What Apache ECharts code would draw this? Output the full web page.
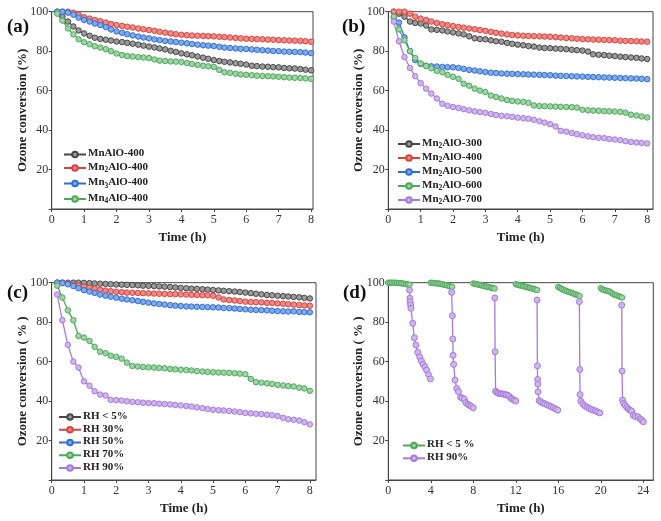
<!DOCTYPE html>
<html><head><meta charset="utf-8">
<script src="https://cdn.jsdelivr.net/npm/echarts@6/dist/echarts.min.js"></script>
<style>html,body{margin:0;padding:0;background:#fff}#c{width:661px;height:521px}</style>
</head><body><div id="c"></div>
<script>
// ---- data ----
const T8 = [0.17,0.33,0.5,0.67,0.83,1,1.17,1.33,1.5,1.67,1.83,2,2.17,2.33,2.5,2.67,2.83,3,3.17,3.33,3.5,3.67,3.83,4,
            4.17,4.33,4.5,4.67,4.83,5,5.17,5.33,5.5,5.67,5.83,6,6.17,6.33,6.5,6.67,6.83,7,7.17,7.33,7.5,7.67,7.83,8];
const aNames = ['MnAlO-400','Mn2AlO-400','Mn3AlO-400','Mn4AlO-400'];
const aGray = [99.5,97.5,95,92.5,90.5,89, 87.8,86.8,86.2,85.8,85.4,84.9, 84.6,84.2,83.8,83.3,82.8,82.3, 81.9,81.4,80.9,80.2,79.6,78.9,
  78.4,77.9,77.3,76.7,76.1,75.5, 75.0,74.6,74.3,73.9,73.6,73.2, 72.6,72.4,72.2,72.1,71.9,71.8, 71.5,71.3,71.2,70.9,70.6,70.3];
const aRed = [100,100,100,99.5,98.5,97.2, 96.5,95.8,95.2,94.5,93.8,93.2, 92.8,92.4,92,91.5,91.1,90.7, 90.3,89.8,89.4,89,88.6,88.3,
  88.1,87.9,87.8,87.7,87.6,87.5, 87.3,87.1,86.9,86.7,86.5,86.3, 86.2,86.1,86,85.9,85.8,85.6, 85.5,85.4,85.3,85.2,85.0,84.8];
const aBlue = [100,100,99.5,98.5,97,95.8, 95,94,93.2,92.2,91,90, 89.3,88.6,88,87.4,86.9,86.5, 86,85.6,85.2,84.9,84.6,84.3,
  84,83.6,83.3,83,82.8,82.6, 82.2,81.8,81.6,81.4,81.2,81.1, 80.9,80.7,80.5,80.3,80.1,80, 79.8,79.7,79.6,79.5,79.3,79];
const aGreen = [99,95.5,91.5,88.5,86,84.5, 83.5,82.5,81.8,81,80,78.8, 78,77.5,77.3,77,76.8,76.5, 75.8,75.2,75,74.8,74.7,74.5,
  74,73.5,73,72.6,72.3,72, 70.5,69.3,69,68.6,68.2,68, 67.8,67.6,67.4,67.3,67.2,67, 66.8,66.6,66.5,66.4,66.2,66];

const bNames = ['Mn2AlO-300','Mn2AlO-400','Mn2AlO-500','Mn2AlO-600','Mn2AlO-700'];
const bGray = [100,99,97.5,95,94.3,94, 93,91,90.8,90.5,90,89.5, 89,88.5,87.5,86.5,86.2,86, 85.5,85,84.8,84.2,83.7,83.3,
  83,82.6,82.3,81.8,81.6,81.5, 81.3,81.2,81,80.7,80.5,80.3, 79.8,78.4,78.2,78,77.7,77.5, 77.2,77,76.8,76.6,76.3,76];
const bRed = [100,100,100,99,97.5,96.5, 95.8,95,94.3,93.7,93.2,92.7, 92.3,91.9,91.5,91.1,90.7,90.3, 89.8,89.3,88.9,88.5,88.2,88,
  87.8,87.7,87.6,87.5,87.4,87.3, 87.1,86.9,86.7,86.5,86.3,86.1, 86,85.9,85.8,85.7,85.6,85.5, 85.3,85.2,85.1,85,84.9,84.8];
const bBlue = [97,94.5,87,80,75.5,73.5, 72.6,72.3,72.2,72,71.9,71.8, 71.5,71,70.5,70.2,69.8,69.4, 69.1,68.9,68.7,68.6,68.5,68.4,
  68.3,68.2,68.1,68,67.9,67.8, 67.6,67.5,67.4,67.3,67.2,67.1, 67,66.9,66.8,66.7,66.6,66.5, 66.4,66.3,66.2,66.1,66,65.8];
const bGreen = [97.5,91,85.5,80,76.5,73.8, 72.5,71.3,70,69.3,68,67, 66,63.5,62.5,61,60,59.3, 57.5,56.8,56,55.2,54.8,54.5,
  54.3,53.8,52.5,52.2,52.1,52, 51.9,51.8,51.7,51.6,51.4,50.3, 50,49.9,49.8,49.6,49.5,49.4, 49.2,48.8,47.8,47.4,46.9,46.4];
const bPurple = [95,85,77,71.5,67.3,63.8, 61,58.5,56,53.3,52.3,51.7, 51.2,50.6,50,49.5,49.1,48.7, 48.2,47.6,47.2,47,46.7,46.3,
  46,45.7,45.2,44.5,43.8,43, 41.8,39.6,39.2,38.5,37.9,37.4, 36.8,36.4,36.1,35.9,35.5,35.2, 34.9,34.4,34,33.7,33.5,33.2];

const cNames = ['RH < 5%','RH 30%','RH 50%','RH 70%','RH 90%'];
const cGray = [100,100,100,100,100,99.9, 99.8,99.6,99.5,99.4,99.2,99.1, 99,98.9,98.8,98.7,98.5,98.4, 98.3,98.1,98,97.8,97.6,97.4,
  97.2,97,96.9,96.7,96.5,96.3, 96.1,95.9,95.7,95.5,95.3,95, 94.7,94.4,94.1,93.8,93.6,93.4, 93.2,93,92.8,92.6,92.3,92];
const cRed = [100,100,99.6,99,98.5,98, 97.5,97,96.5,96,95.7,95.4, 95.2,95,94.9,94.8,94.7,94.6, 94.5,94.4,94.3,94.2,94.2,94.1,
  94,93.9,93.8,93.7,93.6,93.4, 92.5,91.5,91.2,91,90.7,90.4, 90.2,90.1,90,89.8,89.7,89.5, 89.3,89.1,88.9,88.7,88.5,88.3];
const cBlue = [100,99.8,99.2,98.3,97.2,96.2, 95.5,94.8,94,93.4,92.9,92.4, 91.9,91.5,91.1,90.7,90.3,89.9, 89.5,89.2,88.9,88.6,88.4,88.2,
  88,87.9,87.8,87.7,87.6,87.5, 87.4,87.2,87.1,86.9,86.7,86.5, 86.3,86.2,86.1,86,85.8,85.6, 85.5,85.4,85.5,85.2,85.1,85];
const cGreen = [98.5,92.5,86,81,73,72.2, 70.5,67.5,65,64.3,63,62.4, 61.5,59.5,57.8,57.5,57.3,57.1, 57,56.8,56.6,56.3,56.1,55.9,
  55.7,55.5,55.2,55,54.8,54.6, 54.5,54.4,54.3,54.1,53.9,53.6, 51.2,49.6,49.3,49,48.7,48.2, 47.9,47.6,47.4,46.8,46.4,45.2];
const cPurple = [94,81,68.5,60,57,50, 47.8,45,43.3,42.8,40.6,40.5, 40.3,39.9,39.6,39.4,39.2,39, 38.9,38.7,38.5,38.3,38,37.8,
  37.5,37.2,36.8,36.4,36,35.6, 35.4,35.2,35,34.7,34.4,34, 33.8,33.6,33.4,33.1,32.8,32.4, 31.5,30.8,30.5,30.1,29.3,28.2];

const dNames = ['RH < 5 %','RH 90%'];
const dGreenStarts = [0,4,8,12,16,20];
const dGreenOffsets = [0,0.17,0.33,0.5,0.67,0.83,1,1.17,1.33,1.5,1.67,1.83,2];
const dGreenV = [
  [100,100,100,100,100,99.9,99.8,99.7,99.6,99.5,99.3,99.1,99.0],
  [100,99.9,99.8,99.7,99.6,99.5,99.3,99.1,98.9,98.7,98.4,98.1,97.9],
  [99.6,99.4,99.2,99,98.8,98.6,98.3,98.1,97.9,97.7,97.5,97.3,97.0],
  [99.2,99,98.7,98.5,98.3,98,97.8,97.6,97.4,97.1,96.9,96.6,96.3],
  [97.8,97.3,96.8,96.4,96,95.6,95.3,95,94.7,94.3,94,93.6,93.2],
  [97.2,96.6,96.2,96,95.8,95.5,94.8,94.2,93.8,93.5,93.2,92.8,92.5]
];
const dPurpleT = [
  [2.0,2.03,2.06,2.1,2.13,2.3,2.45,2.6,2.77,2.95,3.12,3.28,3.45,3.6,3.78,3.97],
  [5.96,6.03,6.07,6.1,6.15,6.28,6.44,6.6,6.8,6.95,7.15,7.3,7.5,7.65,7.8,8.0],
  [10.02,10.05,10.1,10.2,10.35,10.5,10.65,10.8,10.95,11.1,11.25,11.4,11.55,11.7,11.85,12.0],
  [14.0,14.03,14.05,14.07,14.1,14.2,14.35,14.55,14.75,14.95,15.15,15.35,15.55,15.75,15.95],
  [17.98,18.02,18.05,18.12,18.3,18.5,18.7,18.9,19.1,19.3,19.5,19.7,19.9],
  [21.97,22.0,22.05,22.15,22.3,22.45,22.6,22.75,22.9,23.05,23.25,23.5,23.7,23.85,24.0]
];
const dPurpleV = [
  [96.2,92.1,90.4,88.7,87,79.4,72.1,68.4,64.7,62.4,60.3,58.6,57.3,55.7,53.5,51.2],
  [95.1,83.3,71.5,63.2,58.6,50.6,46.4,44.8,42,41.5,41,39.2,38.3,37.8,37.3,36.6],
  [92.3,65,45,44.4,44,43.8,43.7,43.6,43.4,43.2,42.9,42.3,41.4,40.9,40.4,40],
  [91.2,57.9,51,48.6,44.7,40.2,39.6,39,38.6,38.1,37.6,37.1,36.6,36,35.4],
  [90.4,56,43.3,39.9,38.6,37.6,36.9,36.3,35.8,35.4,35,34.5,34],
  [88.6,55.2,40.5,38.8,37.8,36.8,36,35.4,35,32.8,32.2,32,31,30.3,29.5]
];
const xTicks8 = [0,1,2,3,4,5,6,7,8];
const xTicks24 = [0,4,8,12,16,20,24];
const yLabels = [20,40,60,80,100];

// ---- styling ----
const FONT = "'Liberation Serif','Times New Roman',serif";
const COL = {
  gray:   ['#474747','#9b9b9b'],
  red:    ['#d8433f','#ef8a86'],
  blue:   ['#2f6fd2','#82aaea'],
  green:  ['#4ea85a','#9ed3a5'],
  purple: ['#a67ad8','#cfb5ee']
};

const grids = [
  {left:51.7, top:11.7, width:261.3, height:197.3, xmax:8.06, xt:xTicks8, yname:'Ozone conversion (%)'},
  {left:388.3, top:11.7, width:264.7, height:197.3, xmax:8.18, xt:xTicks8, yname:'Ozone conversion (%)'},
  {left:51.7, top:282.7, width:264.3, height:197.3, xmax:8.19, xt:xTicks8, yname:'Ozone conversion ( % )'},
  {left:388.3, top:282.7, width:265, height:197.3, xmax:24.94, xt:xTicks24, yname:'Ozone conversion ( % )'}
];

function pairs(ts, vs){ return ts.map((t,i)=>[t, vs[i]]); }
function mk(name, idx, c, data){
  return {
    name, type:'line', xAxisIndex:idx, yAxisIndex:idx, data,
    symbol:'circle', symbolSize:5.5, showSymbol:true, animation:false,
    lineStyle:{color:c[0], width:1.3},
    itemStyle:{color:c[1], borderColor:c[0], borderWidth:1}
  };
}

const series = [
  mk(aNames[0],0,COL.gray,pairs(T8,aGray)),
  mk(aNames[1],0,COL.red,pairs(T8,aRed)),
  mk(aNames[2],0,COL.blue,pairs(T8,aBlue)),
  mk(aNames[3],0,COL.green,pairs(T8,aGreen)),
  mk(bNames[0],1,COL.gray,pairs(T8,bGray)),
  mk(bNames[1],1,COL.red,pairs(T8,bRed)),
  mk(bNames[2],1,COL.blue,pairs(T8,bBlue)),
  mk(bNames[3],1,COL.green,pairs(T8,bGreen)),
  mk(bNames[4],1,COL.purple,pairs(T8,bPurple)),
  mk(cNames[0],2,COL.gray,pairs(T8,cGray)),
  mk(cNames[1],2,COL.red,pairs(T8,cRed)),
  mk(cNames[2],2,COL.blue,pairs(T8,cBlue)),
  mk(cNames[3],2,COL.green,pairs(T8,cGreen)),
  mk(cNames[4],2,COL.purple,pairs(T8,cPurple))
];
// panel d: segments separated by gaps
const dG = [], dP = [];
dGreenStarts.forEach((s,si)=>{
  if(si>0) dG.push([s-1,'-']);
  dGreenOffsets.forEach((o,i)=>dG.push([+(s+o).toFixed(2), dGreenV[si][i]]));
});
dPurpleT.forEach((ts,si)=>{
  if(si>0) dP.push([ts[0]-1,'-']);
  ts.forEach((t,i)=>dP.push([t, dPurpleV[si][i]]));
});
const sdg = mk(dNames[0],3,COL.green,dG); sdg.connectNulls=false;
const sdp = mk(dNames[1],3,COL.purple,dP); sdp.connectNulls=false; sdp.symbolSize=6;
series.push(sdg, sdp);

function fmtName(n){
  const m = n.match(/^Mn(\d)(.*)$/);
  if(m) return '{t|Mn}{s|'+m[1]+'}{t|'+m[2]+'}';
  return '{t|'+n+'}';
}
const legendRich = {
  t:{fontFamily:FONT, fontWeight:'bold', fontSize:11, color:'#222', lineHeight:13, verticalAlign:'top'},
  s:{fontFamily:FONT, fontWeight:'bold', fontSize:7.5, color:'#222', lineHeight:8, padding:[6,0,0,0], verticalAlign:'bottom'}
};
function legend(names, left, top, gap){
  return {data:names, orient:'vertical', left, top, padding:0, itemWidth:22, itemHeight:7, itemGap:gap,
    selectedMode:false, formatter:fmtName, textStyle:{rich:legendRich, padding:[0,0,0,-3]}};
}

const option = {
  animation:false,
  grid: grids.map(g=>({left:g.left, top:g.top, width:g.width, height:g.height, show:true, borderColor:'#444', borderWidth:1})),
  xAxis: grids.map((g,i)=>({
    type:'value', gridIndex:i, min:0, max:g.xmax,
    name:'Time (h)', nameLocation:'middle', nameGap:22, nameMoveOverlap:false,
    nameTextStyle:{fontFamily:FONT, fontWeight:'bold', fontSize:13, color:'#222'},
    axisLine:{lineStyle:{color:'#444', width:1}},
    axisTick:{show:true, length:3, inside:false, customValues:g.xt, lineStyle:{color:'#444'}},
    axisLabel:{customValues:g.xt, margin:5, fontFamily:FONT, fontSize:12, color:'#333'},
    splitLine:{show:false}
  })),
  yAxis: grids.map((g,i)=>({
    type:'value', gridIndex:i, min:0, max:100,
    name:g.yname, nameLocation:'middle', nameGap:23, nameMoveOverlap:false,
    nameTextStyle:{fontFamily:FONT, fontWeight:'bold', fontSize:13, color:'#222'},
    axisLine:{show:true, lineStyle:{color:'#444', width:1}},
    axisTick:{show:true, length:3, inside:false, customValues:[0,20,40,60,80,100], lineStyle:{color:'#444'}},
    axisLabel:{customValues:yLabels, margin:3.5, fontFamily:FONT, fontSize:12, color:'#333'},
    splitLine:{show:false}
  })),
  legend:[
    legend(aNames, 63, 148, 1.5),
    legend(bNames, 397, 136.5, 0),
    legend(cNames, 58, 410.5, 1.75),
    legend(dNames, 402, 439, 1.8)
  ],
  graphic:[
    {type:'text', left:7, top:18, style:{text:'(a)', font:"bold 19px "+FONT, fill:'#111'}},
    {type:'text', left:342, top:18, style:{text:'(b)', font:"bold 19px "+FONT, fill:'#111'}},
    {type:'text', left:7, top:284, style:{text:'(c)', font:"bold 19px "+FONT, fill:'#111'}},
    {type:'text', left:343, top:284, style:{text:'(d)', font:"bold 19px "+FONT, fill:'#111'}}
  ],
  series
};
const chart = echarts.init(document.getElementById('c'), null, {renderer:'canvas'});
chart.setOption(option);
</script></body></html>
